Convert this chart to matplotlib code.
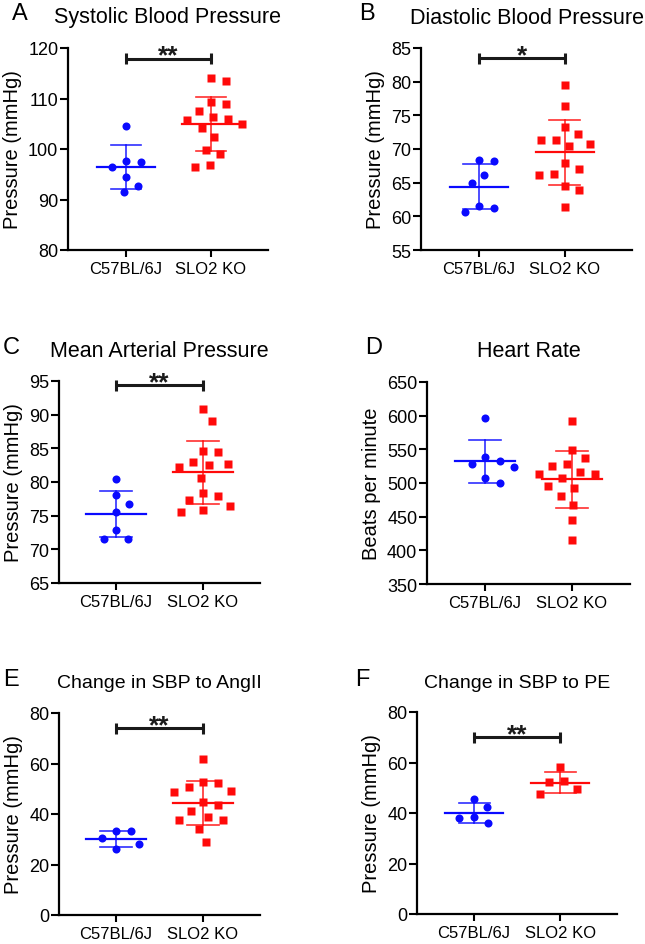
import numpy as np
import matplotlib
matplotlib.use('Agg')
from matplotlib import pyplot as plt

plt.rcParams['font.family'] = ['Liberation Sans', 'DejaVu Sans']

groups = ['C57BL/6J', 'SLO2 KO']

# values
sbp_wt = [104.6, 96.4, 97.6, 97.5, 94.5, 92.6, 91.5]
sbp_ko = [113.4, 114.0, 109.0, 109.4, 106.4, 107.5, 105.7, 105.9, 104.2, 104.9,
          102.3, 99.0, 99.8, 96.5, 96.8]
dbp_wt = [68.2, 68.3, 66.2, 64.9, 61.5, 60.7, 61.2]
dbp_ko = [79.5, 76.4, 72.2, 73.2, 71.4, 70.4, 70.7, 71.3, 67.9, 67.1, 66.1, 66.3,
          63.9, 64.5, 61.4]
map_wt = [80.5, 78.0, 76.8, 75.5, 72.9, 71.5, 71.5]
map_ko = [90.8, 89.0, 84.4, 83.0, 84.6, 82.5, 82.2, 82.7, 80.6, 78.3, 77.9, 77.4,
          76.4, 75.9, 75.5]
hr_wt = [596.2, 537.9, 523.1, 532.0, 528.0, 499.8, 506.8]
hr_ko = [592.8, 549.2, 536.9, 528.0, 524.6, 515.7, 513.1, 506.8, 492.8, 495.8,
         481.0, 467.2, 444.9, 415.7, 513.6]
ang_wt = [33.4, 33.1, 30.5, 26.1, 28.1]
ang_ko = [61.8, 52.2, 48.8, 50.6, 52.6, 49.1, 44.6, 43.6, 41.3, 38.9, 37.7, 37.6,
          34.1, 28.8]
pe_wt = [45.4, 42.4, 38.3, 37.9, 35.9]
pe_ko = [58.3, 52.5, 52.3, 49.4, 47.4]

titles = ['Systolic Blood Pressure', 'Diastolic Blood Pressure',
          'Mean Arterial Pressure', 'Heart Rate',
          'Change in SBP to AngII', 'Change in SBP to PE']
letters = ['A', 'B', 'C', 'D', 'E', 'F']
ylabels = ['Pressure (mmHg)', 'Pressure (mmHg)', 'Pressure (mmHg)',
           'Beats per minute', 'Pressure (mmHg)', 'Pressure (mmHg)']
yticks = [np.arange(80, 121, 10), np.arange(55, 86, 5), np.arange(65, 96, 5),
          np.arange(350, 651, 50), np.arange(0, 81, 20), np.arange(0, 81, 20)]
stars = ['**', '*', '**', None, '**', '**']
data = [(sbp_wt, sbp_ko), (dbp_wt, dbp_ko), (map_wt, map_ko),
        (hr_wt, hr_ko), (ang_wt, ang_ko), (pe_wt, pe_ko)]

W, H = 645, 945
# axes boxes in pixels: left, top, right, bottom
boxes = [(68, 49, 268, 251), (421, 49, 632, 251),
         (59, 382, 260, 584), (427, 383, 630, 585),
         (59, 714, 260, 916), (417, 713, 617, 915)]
xlims = [(-0.68, 1.67), (-0.674, 1.78), (-0.655, 1.655),
         (-0.667, 1.667), (-0.655, 1.655), (-0.663, 1.66)]
bar_frac = [0.948, 0.95, 0.98, None, 0.925, 0.875]

blue = '#0a0aff'
red = '#ff0a0a'


def swarm(vals, px_per_y, px_per_x, diam):
    # simple beeswarm: place points closest to centre without overlapping
    order = np.argsort(vals)[::-1]
    placed = []
    offs = np.zeros(len(vals))
    cands = np.arange(0, 60, 0.5)
    cands = np.concatenate([[0], np.ravel(np.column_stack([cands[1:], -cands[1:]]))])
    for i in order:
        yi = vals[i] * px_per_y
        for c in cands:
            ok = True
            for (xp, yp) in placed:
                if (c - xp) ** 2 + (yi - yp) ** 2 < diam ** 2:
                    ok = False
                    break
            if ok:
                placed.append((c, yi))
                offs[i] = c / px_per_x
                break
    return offs


fig = plt.figure(figsize=(W / 100, H / 100), dpi=100)

for k in range(6):
    l, t, r, b = boxes[k]
    ax = fig.add_axes([l / W, 1 - b / H, (r - l) / W, (b - t) / H])
    yt = yticks[k]
    ax.set_ylim(yt[0], yt[-1])
    ax.set_xlim(*xlims[k])
    ppy = (b - t) / (yt[-1] - yt[0])
    ppx = (r - l) / (xlims[k][1] - xlims[k][0])

    for g, (vals, col, mk) in enumerate(zip(data[k], [blue, red], ['o', 's'])):
        vals = np.array(vals)
        offs = swarm(vals, ppy, ppx, 15.0)
        ax.plot(g + offs, vals, ls='none', marker=mk, ms=5.8 if mk == 'o' else 5.4,
                mfc=col, mec='none', zorder=3, clip_on=False)
        m = vals.mean()
        sd = vals.std(ddof=1)
        ax.plot([g - 0.34, g + 0.34], [m, m], color=col, lw=1.6, zorder=2)
        ax.plot([g, g], [m - sd, m + sd], color=col, lw=1.2, alpha=0.85, zorder=2)
        for yy in (m - sd, m + sd):
            ax.plot([g - 0.18, g + 0.18], [yy, yy], color=col, lw=1.2, alpha=0.85, zorder=2)

    if stars[k]:
        yb = yt[0] + bar_frac[k] * (yt[-1] - yt[0])
        tick = 5.5 / ppy
        ax.plot([0, 1], [yb, yb], color='#1a1a1a', lw=2.2, clip_on=False, solid_capstyle='butt')
        for xx in (0, 1):
            ax.plot([xx, xx], [yb - tick, yb + tick], color='#1a1a1a', lw=2.2,
                    clip_on=False, solid_capstyle='butt')
        ax.annotate(stars[k], (0.5, yb), xytext=(0, -3), textcoords='offset points',
                    ha='center', va='baseline', fontsize=19, fontweight='bold',
                    color='#1a1a1a', annotation_clip=False)

    for side in ['top', 'right']:
        ax.spines[side].set_visible(False)
    for side in ['left', 'bottom']:
        ax.spines[side].set_linewidth(1.6)
    ax.set_yticks(yt)
    ax.set_xticks([0, 1])
    ax.set_xticklabels(groups, fontsize=12)
    ax.tick_params(axis='y', labelsize=13, width=1.5, length=6, pad=1)
    ax.tick_params(axis='x', width=1.5, length=5, pad=3)
    ax.set_ylabel(ylabels[k], fontsize=14.5, labelpad=4)

    title_x = (l + r) / 2 / W
    fig.text(title_x, 1 - 18 / H if k < 2 else (1 - 352 / H if k < 4 else 1 - 684 / H),
             titles[k], ha='center', va='center', fontsize=15.5 if k < 4 else 14)
    fig.text((l - 56) / W if k % 2 == 0 else (l - 62) / W,
             1 - 14 / H if k < 2 else (1 - 348 / H if k < 4 else 1 - 680 / H),
             letters[k], ha='left', va='center', fontsize=17)

fig.savefig('out.png', dpi=100)
